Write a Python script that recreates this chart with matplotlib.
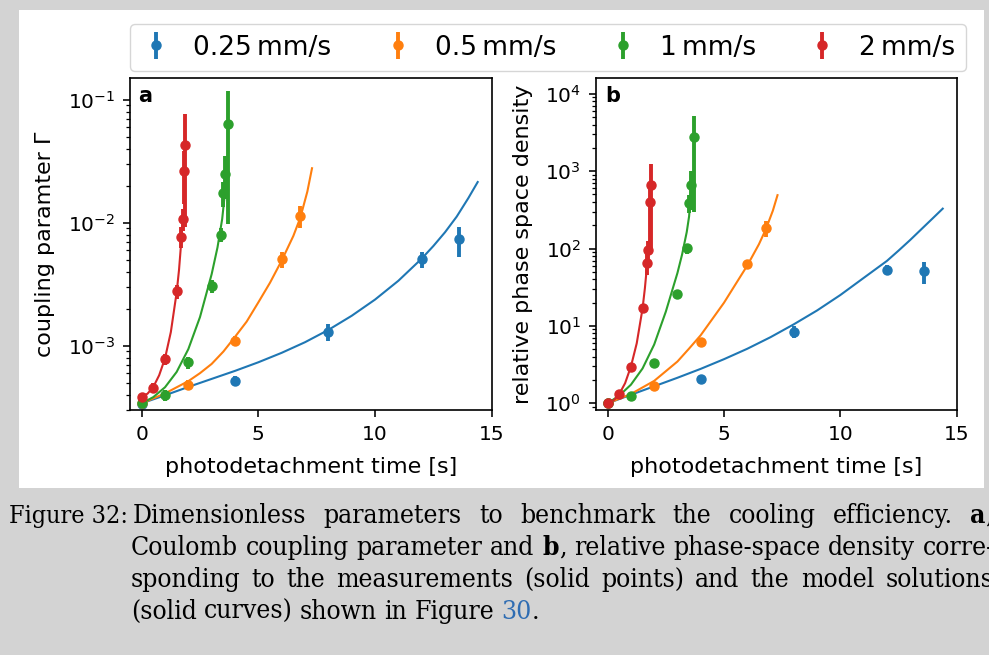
import matplotlib
matplotlib.use('Agg')
import matplotlib.pyplot as plt
from matplotlib.patches import Rectangle

W, H = 989, 655

# measured points: photodetachment time [s], coupling parameter, relative PSD
t_025 = [0, 4, 8, 12, 13.6]
gam_025 = [3.37e-4, 5.2e-4, 1.30e-3, 5.03e-3, 7.3e-3]
gam_025_err = [0.2e-4, 0.5e-4, 0.2e-3, 0.78e-3, 2.0e-3]
psd_025 = [1.0, 2.08, 8.45, 53.2, 50.6]
psd_025_err = [0.05, 0.2, 1.4, 8, 16]

t_05 = [0, 2, 4, 6, 6.8]
gam_05 = [3.4e-4, 4.82e-4, 1.09e-3, 5.03e-3, 1.135e-2]
gam_05_err = [0.2e-4, 0.4e-4, 1.0e-4, 0.78e-3, 2.3e-3]
psd_05 = [1.0, 1.69, 6.27, 63, 184]
psd_05_err = [0.05, 0.15, 0.8, 9, 45]

t_1 = [0, 1, 2, 3, 3.4, 3.5, 3.58, 3.7]
gam_1 = [3.45e-4, 3.95e-4, 7.32e-4, 3.05e-3, 8.0e-3, 1.73e-2, 2.51e-2, 6.38e-2]
gam_1_err = [0.2e-4, 0.4e-4, 0.8e-4, 0.35e-3, 1.0e-3, 4.0e-3, 9.6e-3, 5.4e-2]
psd_1 = [1.0, 1.24, 3.3, 26.0, 101, 385, 655, 2750]
psd_1_err = [0.05, 0.1, 0.4, 3.5, 15, 100, 340, 2450]

t_2 = [0, 0.5, 1, 1.5, 1.7, 1.75, 1.8, 1.85]
gam_2 = [3.85e-4, 4.56e-4, 7.76e-4, 2.76e-3, 7.67e-3, 1.07e-2, 2.63e-2, 4.26e-2]
gam_2_err = [0.3e-4, 0.4e-4, 0.8e-4, 0.35e-3, 1.5e-3, 2.2e-3, 1.2e-2, 3.34e-2]
psd_2 = [1.0, 1.32, 2.98, 17.0, 65, 97, 400, 670]
psd_2_err = [0.05, 0.1, 0.35, 2.5, 20, 30, 300, 570]

# model solutions
mt_025 = [0, 1, 2, 3, 4, 5, 6, 7, 8, 9, 10, 11, 12, 12.5, 13, 13.5, 14, 14.4]
mgam_025 = [3.40e-4, 3.95e-4, 4.62e-4, 5.37e-4, 6.24e-4, 7.33e-4, 8.75e-4,
            1.067e-3, 1.343e-3, 1.75e-3, 2.37e-3, 3.37e-3, 5.1e-3, 6.46e-3,
            8.36e-3, 1.12e-2, 1.585e-2, 2.14e-2]
mpsd_025 = [1.0, 1.29, 1.66, 2.14, 2.79, 3.72, 5.07, 7.16, 10.5, 15.85, 25.1,
            41.7, 69.2, 94, 129, 180, 251, 328]

mt_05 = [0, 1, 2, 2.5, 3, 3.5, 4, 4.5, 5, 5.5, 6, 6.5, 6.8, 7.1, 7.3]
mgam_05 = [3.40e-4, 4.09e-4, 5.15e-4, 5.98e-4, 7.11e-4, 8.95e-4, 1.18e-3,
           1.57e-3, 2.25e-3, 3.25e-3, 4.92e-3, 7.8e-3, 1.10e-2, 1.79e-2, 2.77e-2]
mpsd_05 = [1.0, 1.32, 1.95, 2.6, 3.47, 5.1, 7.59, 12.3, 19.95, 34.7, 60.3,
           113.5, 178, 309, 490]

mt_1 = [0, 0.5, 1, 1.5, 2, 2.5, 3, 3.25, 3.45, 3.55, 3.65]
mgam_1 = [3.40e-4, 3.82e-4, 4.59e-4, 6.12e-4, 9.38e-4, 1.71e-3, 3.82e-3,
          6.3e-3, 1.07e-2, 1.62e-2, 2.82e-2]
mt_1b = [0, 0.5, 1, 1.5, 2, 2.5, 3, 3.2, 3.4, 3.5, 3.6]
mpsd_1 = [1.0, 1.26, 1.74, 2.82, 5.75, 15.3, 48.4, 84, 164, 260, 650]

mt_2 = [0, 0.25, 0.5, 0.75, 1, 1.25, 1.5, 1.6, 1.7, 1.78]
mgam_2 = [3.85e-4, 4.07e-4, 4.62e-4, 5.75e-4, 7.89e-4, 1.29e-3, 2.72e-3,
          4.12e-3, 7.16e-3, 1.245e-2]
mpsd_2 = [1.0, 1.084, 1.318, 1.82, 2.985, 5.96, 16.8, 30.5, 63.8, 123.9]

labels = ['0.25\u2009mm/s', '0.5\u2009mm/s', '1\u2009mm/s', '2\u2009mm/s']
colors = ['C0', 'C1', 'C2', 'C3']

times = [t_025, t_05, t_1, t_2]
gams = [gam_025, gam_05, gam_1, gam_2]
gam_errs = [gam_025_err, gam_05_err, gam_1_err, gam_2_err]
psds = [psd_025, psd_05, psd_1, psd_2]
psd_errs = [psd_025_err, psd_05_err, psd_1_err, psd_2_err]
curves_a = [(mt_025, mgam_025), (mt_05, mgam_05), (mt_1, mgam_1), (mt_2, mgam_2)]
curves_b = [(mt_025, mpsd_025), (mt_05, mpsd_05), (mt_1b, mpsd_1), (mt_2, mpsd_2)]

fig = plt.figure(figsize=(W / 100, H / 100), dpi=100, facecolor='#d3d3d3')
fig.patches.append(Rectangle((19 / W, 1 - 488 / H), 965 / W, 478 / H,
                             transform=fig.transFigure, facecolor='white',
                             edgecolor='none', zorder=-10))

ax_a = fig.add_axes([130 / W, 1 - 410 / H, 361.7 / W, 332 / H])
ax_b = fig.add_axes([596 / W, 1 - 410 / H, 360.7 / W, 332 / H])

handles = []
for i in range(4):
    ax_a.plot(*curves_a[i], color=colors[i], lw=1.5)
    ax_b.plot(*curves_b[i], color=colors[i], lw=1.5)
for i in range(4):
    h = ax_a.errorbar(times[i], gams[i], yerr=gam_errs[i], fmt='o',
                      color=colors[i], ms=6.5, elinewidth=2.8, capsize=0,
                      label=labels[i])
    ax_b.errorbar(times[i], psds[i], yerr=psd_errs[i], fmt='o',
                  color=colors[i], ms=6.5, elinewidth=2.8, capsize=0)
    handles.append(h)

for ax in (ax_a, ax_b):
    ax.set_yscale('log')
    ax.set_xlim(-0.5, 15)
    ax.set_xticks([0, 5, 10, 15])
    ax.tick_params(which='major', labelsize=14.5, length=5.2, width=1.15,
                   pad=5.6)
    ax.tick_params(which='minor', length=3.0, width=0.9)
    for s in ax.spines.values():
        s.set_linewidth(1.2)
    ax.set_xlabel('photodetachment time [s]', fontsize=16, labelpad=9.5)

ax_a.set_ylim(3e-4, 0.15)
ax_b.set_ylim(0.82, 1.6e4)
ax_a.set_ylabel('coupling paramter \u0393', fontsize=16, labelpad=9)
ax_b.set_ylabel('relative phase space density', fontsize=16, labelpad=8.5)
ax_a.text(0.022, 0.976, 'a', transform=ax_a.transAxes, fontsize=15,
          fontweight='bold', va='top')
ax_b.text(0.025, 0.976, 'b', transform=ax_b.transAxes, fontsize=15,
          fontweight='bold', va='top')

fig.legend(handles=handles, loc='upper left', ncol=4, fontsize=19,
           bbox_to_anchor=(130 / W, 1 - 24 / H), borderaxespad=0,
           handlelength=1.2, handletextpad=0.8, columnspacing=1.92)

# caption below the figure, justified like the thesis page
CAPTION = dict(family='DejaVu Serif', size=19, stretch='condensed')
SPACE = 0.27 * 19 * 100 / 72
renderer = fig.canvas.get_renderer()


def caption_line(words, y, x0, x1=None):
    placed = []
    for word in words:
        parts = []
        for text, style in word:
            t = fig.text(0, 1 - y / H, text, va='baseline', **CAPTION, **style)
            parts.append((t, t.get_window_extent(renderer).width))
        placed.append(parts)
    totals = [sum(w for _, w in parts) for parts in placed]
    gap = SPACE if x1 is None else (x1 - x0 - sum(totals)) / (len(placed) - 1)
    x = x0
    for parts, total in zip(placed, totals):
        xx = x
        for t, w in parts:
            t.set_x(xx / W)
            xx += w
        x += total + gap


def plain(line):
    return [[(w, {})] for w in line.split()]


bold = {'weight': 'bold'}
fig.text(9 / W, 1 - 523 / H, 'Figure 32:', va='baseline',
         **dict(CAPTION, size=18))
caption_line(plain('Dimensionless parameters to benchmark the cooling efficiency.')
             + [[('a', bold), (',', {})]], 523, 133, 993)
caption_line(plain('Coulomb coupling parameter and') + [[('b', bold), (',', {})]]
             + plain('relative phase-space density corre-'), 555, 131, 995)
caption_line(plain('sponding to the measurements (solid points) and the model solutions'),
             587, 131, 993)
caption_line(plain('(solid curves) shown in Figure')
             + [[('30', {'color': '#2f6db3'}), ('.', {})]], 619, 131)

fig.savefig('out.png', dpi=100, facecolor=fig.get_facecolor())
